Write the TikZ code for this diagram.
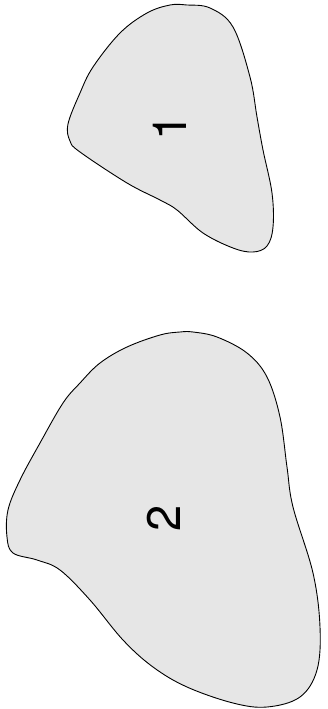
\documentclass[tikz,border=0pt]{standalone}
\usepackage{fontspec}
\setmainfont{TeX Gyre Heros}
\begin{document}
\begin{tikzpicture}[x=1pt,y=-1pt,
  blob/.style={draw=black,line width=0.9pt,fill=blobgray},
  lbl/.style={rotate=90,font=\fontsize{47}{47}\selectfont,inner sep=0pt}]
\definecolor{blobgray}{HTML}{E6E6E6}
\useasboundingbox (0,0) rectangle (328,709);
\draw[blob] plot[smooth cycle,tension=0.6] coordinates {
 (187,5) (210,8) (233,27) (250,77) (257,117) (263,150) (272,193) (273,227)
 (267,246) (253,252) (233,248) (203,233) (177,210) (160,200) (127,183)
 (80,152) (70,141) (68,124) (80,93) (93,67) (120,33) (147,13) (170,5)};
\draw[blob] plot[smooth cycle,tension=0.6] coordinates {
 (180,332) (160,335) (127,347) (100,363) (80,383) (63,403) (40,443) (20,480)
 (8,510) (7,537) (13,553) (37,560) (60,570) (90,600) (123,640) (153,667)
 (187,687) (233,703) (267,707) (300,697) (317,670) (320,627) (313,573)
 (293,507) (287,467) (280,417) (267,377) (247,353) (217,337) (193,332)};
\node[lbl] (one) at (170,127) {1};
\node[lbl] (two) at (164,518) {2};
\end{tikzpicture}
\end{document}
